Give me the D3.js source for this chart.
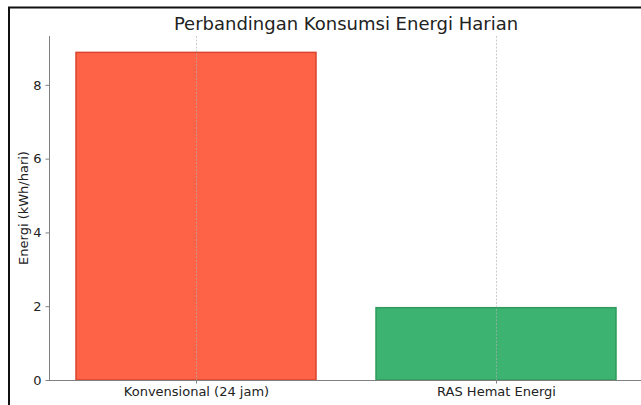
<!DOCTYPE html>
<html>
<head>
<meta charset="utf-8">
<script src="https://cdn.jsdelivr.net/npm/d3@7"></script>
<style>
  html, body { margin: 0; padding: 0; background: #fff; }
  svg { display: block; }
  text { font-family: "DejaVu Sans", sans-serif; }
</style>
</head>
<body>
<svg id="chart" width="641" height="405"></svg>
<script>
// Daily energy use, conventional vs. energy-saving system
const categories = ["Konvensional (24 jam)", "RAS Hemat Energi"];
const energyValues = [8.88, 1.96];
const barColors = ["#FF6347", "#3CB371"];
const barEdges = ["#D9452E", "#2E9A5C"];
const yTicks = [0, 2, 4, 6, 8];
const titleText = "Perbandingan Konsumsi Energi Harian";
const yLabelText = "Energi (kWh/hari)";

const svg = d3.select("#chart");
const W = 641, H = 405;
const plot = { left: 49, right: 643, top: 36, bottom: 380 };

// category positions 0..n-1, bars 0.8 wide, 5% margins like a default bar plot
const x = d3.scaleLinear().domain([-0.49, categories.length - 1 + 0.49]).range([plot.left, plot.right]);
const yMax = d3.max(energyValues) * 1.05;
const y = d3.scaleLinear().domain([0, yMax]).range([plot.bottom, plot.top]);
const barW = 0.8;

// outer frame
svg.append("rect")
  .attr("x", 9).attr("y", 7.5).attr("width", W).attr("height", H)
  .attr("fill", "none").attr("stroke", "#111").attr("stroke-width", 2);

// bars
svg.append("g").selectAll("rect")
  .data(energyValues)
  .join("rect")
  .attr("x", (d, i) => x(i - barW / 2))
  .attr("width", (d, i) => x(i + barW / 2) - x(i - barW / 2))
  .attr("y", d => y(d))
  .attr("height", d => y(0) - y(d))
  .attr("fill", (d, i) => barColors[i])
  .attr("stroke", (d, i) => barEdges[i])
  .attr("stroke-width", 1.5);

// vertical grid lines at category centres
svg.append("g").selectAll("line")
  .data(categories)
  .join("line")
  .attr("x1", (d, i) => Math.round(x(i)) + 0.5)
  .attr("x2", (d, i) => Math.round(x(i)) + 0.5)
  .attr("y1", plot.top).attr("y2", plot.bottom)
  .attr("stroke", "#b0b0b0").attr("stroke-opacity", 0.8)
  .attr("stroke-width", 0.8).attr("stroke-dasharray", "2,1.5");

// y axis
const yAxis = d3.axisLeft(y).tickValues(yTicks).tickFormat(d3.format("d")).tickSize(3.5).tickPadding(4);
const gy = svg.append("g").attr("transform", `translate(${plot.left},0)`).call(yAxis);
gy.select(".domain").attr("stroke", "#808080").attr("stroke-width", 1).attr("d", `M0.5,${plot.top}V${plot.bottom}`);
gy.selectAll(".tick line").attr("stroke", "#808080");
gy.selectAll(".tick text").attr("fill", "#222").attr("font-size", 13).attr("font-family", "DejaVu Sans");

// x axis
const xAxis = d3.axisBottom(x).tickValues(categories.map((d, i) => i)).tickFormat(i => categories[i]).tickSize(3.5).tickPadding(3);
const gx = svg.append("g").attr("transform", `translate(0,${plot.bottom})`).call(xAxis);
gx.select(".domain").attr("stroke", "#808080").attr("stroke-width", 1).attr("d", `M${plot.left},0.5H${plot.right}`);
gx.selectAll(".tick line").attr("stroke", "#808080");
gx.selectAll(".tick text").attr("fill", "#222").attr("font-size", 13).attr("font-family", "DejaVu Sans");

// title
svg.append("text")
  .attr("x", (plot.left + plot.right) / 2).attr("y", 30)
  .attr("text-anchor", "middle").attr("font-size", 18).attr("fill", "#222")
  .text(titleText);

// y label
svg.append("text")
  .attr("transform", `translate(28,${(plot.top + plot.bottom) / 2}) rotate(-90)`)
  .attr("text-anchor", "middle").attr("font-size", 13).attr("fill", "#222")
  .text(yLabelText);
</script>
</body>
</html>
